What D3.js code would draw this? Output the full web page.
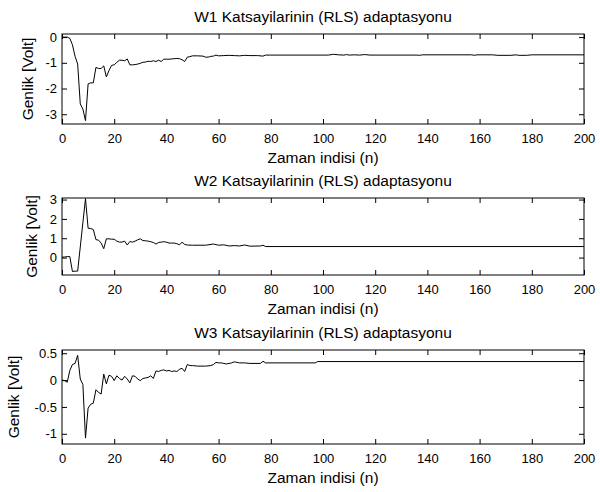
<!DOCTYPE html>
<html>
<head>
<meta charset="utf-8">
<script src="https://cdn.jsdelivr.net/npm/d3@7"></script>
<style>
  body { margin: 0; background: #fff; }
  svg text { font-family: "Liberation Sans", Arial, Helvetica, sans-serif; font-size: 13px; fill: #000; }
  svg text.label { font-size: 15.5px; }
</style>
</head>
<body>
<div id="chart"></div>
<script>
// n ekseni (ortak) ve etiketler
const xTicks = [0, 20, 40, 60, 80, 100, 120, 140, 160, 180, 200];
const titles = [
    "W1 Katsayilarinin (RLS) adaptasyonu",
    "W2 Katsayilarinin (RLS) adaptasyonu",
    "W3 Katsayilarinin (RLS) adaptasyonu"
];
const xLabel = "Zaman indisi (n)";
const yLabel = "Genlik [Volt]";

// W1 katsayisi: [n, deger]
const w1 = [
    [0, 0], [1, 0], [2, 0], [3, -0.05], [4, -0.3], [5, -0.75], [6, -1.05], [7, -2.6], [8, -2.8], [9, -3.25],
    [10, -1.82], [11, -1.78], [12, -1.78], [13, -1.18], [14, -1.22], [15, -1.22], [16, -1.12], [17, -1.55],
    [18, -1.3], [19, -1.1], [20, -1.08], [21, -0.98], [22, -0.9], [23, -0.9], [24, -0.92], [25, -0.85],
    [26, -1.08], [27, -1.08], [28, -1.07], [29, -1.05], [30, -1.02], [31, -0.98], [32, -0.97], [33, -0.94],
    [34, -0.95], [35, -0.92], [36, -0.95], [37, -0.9], [38, -0.95], [39, -0.86], [40, -0.86], [41, -0.86],
    [42, -0.85], [43, -0.84], [44, -0.83], [45, -0.84], [46, -0.88], [47, -0.95], [48, -0.78], [49, -0.76],
    [50, -0.73], [52, -0.73], [54, -0.74], [55, -0.78], [56, -0.78], [57, -0.75], [58, -0.74], [59, -0.7],
    [60, -0.73], [62, -0.72], [64, -0.71], [66, -0.72], [68, -0.73], [70, -0.71], [72, -0.72], [75, -0.72],
    [77, -0.74], [78, -0.7], [80, -0.7], [102, -0.7], [104, -0.67], [106, -0.69], [108, -0.7], [109, -0.68],
    [110, -0.7], [112, -0.69], [114, -0.7], [116, -0.68], [118, -0.7], [136, -0.7], [137, -0.71], [138, -0.69],
    [157, -0.69], [158, -0.71], [159, -0.69], [165, -0.69], [167, -0.71], [172, -0.71], [174, -0.69],
    [175, -0.71], [178, -0.71], [180, -0.69], [200, -0.69]
];

// W2 katsayisi
const w2 = [
    [0, 0.02], [1, 0.03], [2, 0.05], [3, 0.05], [4, -0.72], [5, -0.7], [6, -0.7], [7, 0.55], [8, 1.8], [9, 3.05],
    [10, 1.52], [11, 1.5], [12, 1.45], [13, 0.93], [14, 0.9], [15, 0.75], [16, 0.46], [17, 0.97], [18, 0.97],
    [19, 0.95], [20, 0.95], [21, 0.85], [22, 0.8], [23, 0.8], [24, 0.85], [25, 0.65], [26, 0.83], [27, 0.8],
    [28, 0.85], [29, 0.92], [30, 0.97], [31, 0.88], [32, 0.87], [33, 0.85], [34, 0.82], [35, 0.78], [36, 0.7],
    [37, 0.78], [38, 0.8], [39, 0.82], [40, 0.8], [41, 0.75], [42, 0.75], [43, 0.75], [44, 0.72], [45, 0.66],
    [46, 0.8], [47, 0.68], [48, 0.65], [50, 0.64], [55, 0.64], [58, 0.7], [60, 0.64], [62, 0.66], [64, 0.6],
    [66, 0.62], [68, 0.6], [70, 0.65], [72, 0.59], [76, 0.6], [77, 0.64], [78, 0.57], [200, 0.57]
];

// W3 katsayisi
const w3 = [
    [0, 0], [1, -0.01], [2, -0.04], [3, 0.18], [4, 0.29], [5, 0.31], [6, 0.46], [7, 0.02], [8, -0.08], [9, -1.08],
    [10, -0.52], [11, -0.45], [12, -0.43], [13, -0.18], [14, -0.23], [15, -0.26], [16, 0.11], [17, -0.07],
    [18, 0.09], [19, 0.07], [20, -0.01], [21, 0.08], [22, 0.03], [23, 0.0], [24, 0.07], [25, 0.02], [26, -0.05],
    [27, 0.08], [28, 0.07], [29, 0.02], [30, -0.01], [31, 0.03], [32, 0.04], [33, 0.05], [34, 0.08], [35, 0.03],
    [36, 0.17], [37, 0.16], [38, 0.18], [39, 0.19], [40, 0.17], [41, 0.18], [42, 0.16], [43, 0.17], [44, 0.16],
    [45, 0.2], [46, 0.22], [47, 0.16], [48, 0.29], [49, 0.27], [50, 0.27], [52, 0.26], [55, 0.26], [57, 0.27],
    [58, 0.29], [59, 0.33], [60, 0.32], [61, 0.32], [62, 0.31], [63, 0.3], [64, 0.31], [65, 0.32], [66, 0.34],
    [67, 0.33], [68, 0.32], [70, 0.32], [72, 0.31], [76, 0.31], [77, 0.35], [78, 0.32], [97, 0.32], [98, 0.345],
    [200, 0.345]
];

const series = [w1, w2, w3];
const yDomains = [[-3.38, 0.12], [-0.9, 3.08], [-1.19, 0.56]];
const yTicks = [[0, -1, -2, -3], [0, 1, 2, 3], [0.5, 0, -0.5, -1]];

const width = 600, height = 492;
const left = 62, right = 584;
// her alt grafigin dikey konumu ve y etiketi yeri
const panels = [
    { top: 34, bottom: 124, ylabX: 33 },
    { top: 198, bottom: 275, ylabX: 37 },
    { top: 350, bottom: 444, ylabX: 19 }
];
const tickLen = 5;

const svg = d3.select("#chart").append("svg")
    .attr("width", width)
    .attr("height", height);

const xScale = d3.scaleLinear().domain([0, 200]).range([left, right]);

panels.forEach((p, i) => {
    const yScale = d3.scaleLinear().domain(yDomains[i]).range([p.bottom, p.top]);
    const g = svg.append("g");

    // alt eksen
    g.append("g")
        .attr("transform", `translate(0,${p.bottom})`)
        .call(d3.axisBottom(xScale).tickValues(xTicks).tickSize(-tickLen).tickSizeOuter(0).tickPadding(10).tickFormat(d3.format("d")))
        .call(a => a.select(".domain").remove());
    // ust eksen
    g.append("g")
        .attr("transform", `translate(0,${p.top})`)
        .call(d3.axisTop(xScale).tickValues(xTicks).tickSize(-tickLen).tickSizeOuter(0).tickFormat(""))
        .call(a => a.select(".domain").remove());
    // sol eksen
    g.append("g")
        .attr("transform", `translate(${left},0)`)
        .call(d3.axisLeft(yScale).tickValues(yTicks[i]).tickSize(-tickLen).tickSizeOuter(0).tickPadding(5).tickFormat(d => d))
        .call(a => a.select(".domain").remove());
    // sag eksen
    g.append("g")
        .attr("transform", `translate(${right},0)`)
        .call(d3.axisRight(yScale).tickValues(yTicks[i]).tickSize(-tickLen).tickSizeOuter(0).tickFormat(""))
        .call(a => a.select(".domain").remove());

    g.selectAll(".tick text")
        .attr("font-family", null).attr("font-size", null)
        .text(function () { return this.textContent.replace("\u2212", "-"); });

    const line = d3.line()
        .x(d => xScale(d[0]))
        .y(d => yScale(d[1]));

    g.append("path")
        .datum(series[i])
        .attr("d", line)
        .attr("fill", "none")
        .attr("stroke", "#000")
        .attr("stroke-width", 1);

    // kutu
    g.append("rect")
        .attr("x", left)
        .attr("y", p.top)
        .attr("width", right - left)
        .attr("height", p.bottom - p.top)
        .attr("fill", "none")
        .attr("stroke", "#000")
        .attr("stroke-width", 1);

    g.append("text")
        .attr("class", "label")
        .attr("x", (left + right) / 2)
        .attr("y", p.top - 12)
        .attr("text-anchor", "middle")
        .text(titles[i]);

    g.append("text")
        .attr("class", "label")
        .attr("x", (left + right) / 2)
        .attr("y", p.bottom + 39)
        .attr("text-anchor", "middle")
        .text(xLabel);

    g.append("text")
        .attr("class", "label")
        .attr("transform", `translate(${p.ylabX},${(p.top + p.bottom) / 2}) rotate(-90)`)
        .attr("text-anchor", "middle")
        .text(yLabel);
});
</script>
</body>
</html>
